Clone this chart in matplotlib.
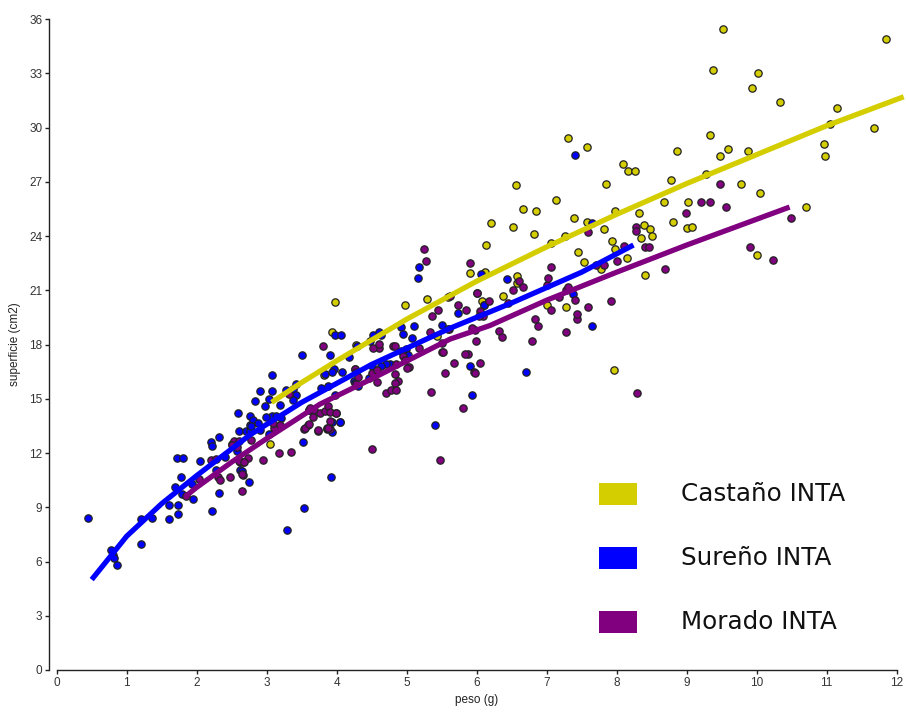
import matplotlib
matplotlib.use("Agg")
import matplotlib.pyplot as plt
from matplotlib.patches import Rectangle

# ---------------- data ----------------
series_names = ["Castaño INTA", "Sureño INTA", "Morado INTA"]
series_colors = ["#D4CE00", "#0000FF", "#800080"]

castano_x = [9.52, 11.85, 9.38, 10.02, 9.94, 10.34, 11.15, 11.05, 9.33, 11.67, 8.86, 9.59, 9.48, 9.88,
             10.96, 10.98, 8.78, 9.27, 9.78, 10.05, 8.67, 9.02, 10.70, 8.81, 9.00, 9.08, 10.00,
             7.30, 7.57, 8.09, 8.16, 8.26, 7.85, 6.56, 7.14, 6.66, 6.85, 7.98, 7.39, 7.58, 6.20,
             6.52, 7.82, 6.82, 8.32, 8.39, 8.47, 8.50, 8.35, 7.93, 7.26, 7.06, 6.13, 7.98, 7.44,
             8.15, 7.53, 7.78, 8.41, 6.12, 6.57, 6.58, 6.37, 7.01, 7.28, 7.96,
             5.90, 3.98, 4.97, 5.29, 5.59, 6.01, 6.08, 6.11, 5.43, 3.94, 3.82, 4.27, 3.05]
castano_y = [35.45, 34.9, 33.2, 33.0, 32.2, 31.4, 31.1, 30.2, 29.6, 29.95, 28.7, 28.8, 28.4, 28.7,
             29.1, 28.4, 27.1, 27.45, 26.9, 26.4, 25.9, 25.9, 25.6, 24.75, 24.45, 24.5, 22.95,
             29.4, 28.9, 27.96, 27.6, 27.6, 26.9, 26.8, 26.0, 25.5, 25.4, 25.4, 25.0, 24.8, 24.7,
             24.5, 24.4, 24.1, 25.25, 24.6, 24.4, 24.0, 23.9, 23.75, 24.0, 23.6, 23.5, 23.3, 23.1,
             22.8, 22.55, 22.2, 21.85, 22.0, 21.8, 21.4, 20.7, 20.2, 20.1, 16.6,
             21.95, 20.35, 20.2, 20.5, 20.6, 20.85, 20.4, 20.2, 18.45, 18.7, 16.3, 18.0, 12.5]

sureno_x = [0.45, 0.77, 0.80, 0.82, 0.86, 1.20, 1.20, 1.36, 1.61, 1.61, 1.73, 1.74, 1.95, 1.69,
            1.79, 1.78, 1.72, 1.80, 1.93, 2.05, 2.22, 2.32, 2.27, 2.62, 2.62, 2.75, 2.58, 2.40,
            2.21, 2.22, 2.32, 2.51, 2.57, 2.59, 2.60, 2.70, 2.76, 2.76, 2.76, 2.81, 2.83, 2.87,
            2.91, 3.08, 2.97, 3.03, 3.19, 3.07, 3.14, 3.20, 3.03, 2.64, 2.77, 2.99, 2.91,
            3.50, 3.90, 3.84, 3.08, 3.42, 3.38, 3.27, 3.42, 3.38, 3.60, 3.52, 3.92, 3.54, 3.29,
            3.59, 3.94, 3.94, 4.05, 3.99, 3.61, 5.40, 4.05,
            5.17, 5.16, 6.06, 5.74, 6.11, 5.50, 5.60, 5.93, 5.90, 6.70, 7.65, 7.65, 7.41, 6.44, 7.38,
            3.97, 4.06, 3.96, 3.94, 4.08, 4.18, 4.26, 4.29, 4.48, 4.52, 4.60, 4.63, 4.92, 4.95,
            5.11, 5.07, 4.99, 5.02, 4.76, 4.71, 4.63, 4.50, 4.46, 4.25, 4.30, 4.26, 3.98, 3.88, 3.78]
sureno_y = [8.4, 6.65, 6.37, 6.18, 5.8, 8.36, 6.98, 8.4, 8.34, 9.14, 9.1, 8.65, 9.45, 10.1,
            9.76, 10.7, 11.75, 11.7, 10.3, 11.57, 8.8, 9.78, 11.07, 11.5, 11.04, 10.4, 12.1, 11.8,
            12.6, 12.37, 12.9, 12.5, 12.6, 14.2, 13.2, 13.2, 13.2, 14.06, 13.56, 13.85, 14.9, 13.66,
            15.45, 15.45, 14.6, 15.0, 14.67, 14.06, 14.06, 13.94, 13.05, 11.0, 13.5, 13.97, 13.25,
            17.4, 17.4, 16.35, 16.3, 15.8, 15.56, 15.47, 15.2, 14.95, 14.36, 12.6, 10.65, 8.97, 7.74,
            13.55, 13.7, 13.15, 13.7, 14.2, 14.4, 13.55, 13.7,
            22.3, 21.7, 21.9, 19.75, 20.2, 19.1, 18.86, 15.2, 16.8, 16.5, 19.0, 24.7, 28.5, 21.6, 20.8,
            18.5, 18.5, 16.65, 16.46, 16.46, 17.3, 16.65, 17.9, 18.2, 18.55, 18.7, 18.5, 18.98, 18.6,
            19.05, 18.35, 17.76, 17.44, 16.94, 16.94, 16.83, 16.83, 16.13, 16.0, 15.7, 15.87, 15.2, 15.7, 15.6]

morado_x = [9.48, 9.21, 9.33, 9.56, 8.99, 10.49, 8.27, 8.41, 8.46, 9.91, 10.24, 8.69, 8.29,
            7.28, 6.87, 6.79, 6.32, 6.36, 5.99, 5.88, 6.05, 5.96, 5.98, 5.80, 7.43, 6.84,
            5.48, 4.51, 3.73, 3.86, 3.91, 3.54, 3.35, 3.17, 2.95, 2.73, 2.66, 2.61, 2.66, 2.64,
            2.78, 3.11, 1.84, 2.03, 2.21, 2.27, 2.31, 2.33, 2.47, 2.65, 2.67,
            2.53, 2.60, 2.51, 2.57, 3.32, 3.09, 3.19, 3.80,
            3.67, 3.62, 3.76, 3.66, 3.84, 3.88, 3.55, 3.60, 3.73, 3.86, 3.90, 3.99, 3.90, 3.88,
            5.25, 5.28, 5.90, 5.45, 5.74, 5.85, 6.09, 6.05, 5.36, 5.34, 5.59, 5.98, 5.51, 5.84,
            5.67, 5.55, 5.35, 4.60, 4.80, 4.84, 5.17, 4.92, 4.95, 4.98, 5.04, 5.00, 4.85, 4.26,
            4.28, 4.50, 4.58, 4.84, 4.88, 4.84, 4.58, 4.70, 4.77, 4.85, 4.52, 4.60, 4.31, 4.28,
            7.59, 8.27, 8.10, 8.01, 7.92, 7.71, 7.82, 7.27, 7.31, 7.41, 7.59, 7.43, 7.06, 7.01,
            7.06, 6.60, 6.66, 6.52, 6.01, 6.17, 6.04, 5.93, 5.50, 5.52, 7.02, 6.45, 7.17, 5.62]
morado_y = [26.9, 25.9, 25.9, 25.6, 25.25, 25.0, 24.5, 23.4, 23.4, 23.4, 22.65, 22.2, 15.3,
            18.7, 19.0, 18.2, 18.75, 18.4, 18.2, 17.45, 17.0, 16.5, 16.4, 14.5, 19.4, 19.4,
            11.6, 12.2, 13.2, 13.35, 13.35, 13.35, 12.07, 12.0, 11.6, 11.75, 11.5, 11.55, 10.8, 9.9,
            12.7, 13.4, 9.6, 10.55, 11.6, 11.65, 10.7, 10.5, 10.65, 10.83, 11.5,
            12.65, 12.65, 12.46, 12.31, 15.28, 13.66, 13.56, 17.9,
            14.4, 14.5, 14.2, 14.0, 14.3, 14.6, 13.36, 13.58, 13.25, 13.36, 14.27, 14.2, 13.75, 13.38,
            23.3, 22.6, 22.5, 19.9, 20.2, 19.9, 19.56, 19.84, 19.6, 18.7, 18.86, 18.8, 17.6, 17.45,
            17.0, 16.4, 15.4, 17.8, 17.94, 17.94, 17.8, 17.63, 17.39, 17.13, 16.76, 16.7, 16.9, 16.65,
            16.46, 16.43, 16.57, 16.35, 16.0, 15.87, 15.9, 15.3, 15.5, 15.47, 17.8, 18.05, 16.2, 15.8,
            24.2, 24.3, 23.45, 22.6, 20.4, 22.4, 22.4, 21.0, 21.2, 20.45, 20.1, 19.7, 22.3, 21.3,
            19.9, 21.5, 21.2, 21.0, 20.85, 20.4, 19.56, 18.9, 18.1, 17.6, 21.65, 20.3, 20.6, 20.7]

# fitted curves
castano_fit_x = [3.07, 3.5, 4.0, 5.0, 6.0, 7.0, 8.0, 9.0, 10.0, 11.0, 12.1]
castano_fit_y = [14.8, 15.9, 17.1, 19.4, 21.5, 23.4, 25.2, 26.9, 28.5, 30.1, 31.7]
sureno_fit_x = [0.5, 1.0, 1.5, 2.0, 2.76, 3.5, 4.5, 5.62, 6.5, 7.5, 8.24]
sureno_fit_y = [5.0, 7.4, 9.2, 10.75, 13.0, 14.8, 16.9, 18.9, 20.3, 22.0, 23.5]
morado_fit_x = [1.84, 2.0, 2.5, 3.0, 3.76, 4.5, 5.62, 6.19, 7.0, 8.0, 9.0, 10.47]
morado_fit_y = [9.6, 10.1, 11.5, 12.8, 14.7, 16.1, 18.3, 19.05, 20.45, 22.0, 23.5, 25.6]

x_ticks = list(range(0, 13))
y_ticks = list(range(0, 37, 3))

# ---------------- figure ----------------
W, H = 906, 713
fig = plt.figure(figsize=(W / 100, H / 100), dpi=100)
ax = fig.add_axes([56.7 / W, 43 / H, 840 / W, 651 / H])

tick_font = "Liberation Sans"
scat = [(castano_x, castano_y), (sureno_x, sureno_y), (morado_x, morado_y)]
fits = [(castano_fit_x, castano_fit_y), (sureno_fit_x, sureno_fit_y), (morado_fit_x, morado_fit_y)]

for (xs, ys), c in zip(scat, series_colors):
    ax.scatter(xs, ys, s=28, c=c, edgecolors="#222222", linewidths=0.9, zorder=2, clip_on=False)
for (xs, ys), c in zip(fits, series_colors):
    ax.plot(xs, ys, color=c, lw=3.8, solid_capstyle="butt", zorder=3, clip_on=False)

ax.set_xlim(0, 12)
ax.set_ylim(0, 36)
ax.set_xticks(x_ticks)
ax.set_yticks(y_ticks)
for s in ["top", "right"]:
    ax.spines[s].set_visible(False)
ax.spines["left"].set_position(("outward", 5.3))
for s in ["left", "bottom"]:
    ax.spines[s].set_color("#222222")
    ax.spines[s].set_linewidth(1.0)
ax.tick_params(direction="out", length=3, width=1, color="#222222",
               labelsize=8.5, labelcolor="#333333", pad=2)
for lab in ax.get_xticklabels() + ax.get_yticklabels():
    lab.set_fontfamily(tick_font)

ax.set_xlabel("peso (g)", fontsize=8.5, family=tick_font, color="#222222", labelpad=4)
ax.set_ylabel("superficie (cm2)", fontsize=8.5, family=tick_font, color="#222222", labelpad=6)

# ---------------- legend ----------------
leg_centers = [494, 558, 622]
for name, c, yc in zip(series_names, series_colors, leg_centers):
    fig.add_artist(Rectangle((599 / W, 1 - (yc + 11) / H), 38 / W, 22 / H,
                             transform=fig.transFigure, facecolor=c, edgecolor="none"))
    fig.text(681 / W, 1 - yc / H, name, fontsize=17.7, family="DejaVu Sans",
             color="#111111", va="center", ha="left")

fig.savefig("out.png", dpi=100)
